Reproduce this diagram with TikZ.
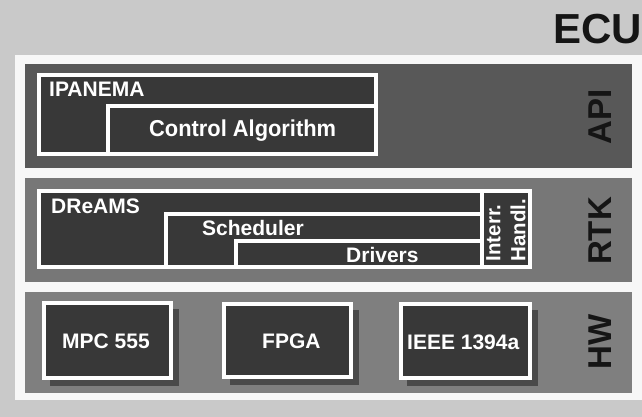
\documentclass[tikz,border=0pt]{standalone}
\usepackage{fontspec}
\setmainfont{Liberation Sans}
\newfontfamily\narrowfont[FakeStretch=0.95]{Liberation Sans}
\definecolor{bgc}{HTML}{C9C9C9}
\definecolor{panelc}{HTML}{F7F7F7}
\definecolor{apic}{HTML}{585858}
\definecolor{rtkc}{HTML}{777777}
\definecolor{hwc}{HTML}{7F7F7F}
\definecolor{innerc}{HTML}{383838}
\definecolor{shadowc}{HTML}{4A4A4A}
\definecolor{lblc}{HTML}{151515}
\begin{document}
\begin{tikzpicture}[x=1pt,y=-1pt,
  bandbox/.style={fill=#1,draw=none},
  innerbox/.style={fill=innerc,draw=white,line width=3.5pt},
  wline/.style={draw=white,line width=3.5pt},
  shadowbox/.style={fill=shadowc,draw=none},
  lbl/.style={text=white,font=\bfseries\fontsize{21}{24}\selectfont,inner sep=0pt,anchor=base west},
  side/.style={text=lblc,font=\bfseries\fontsize{33}{36}\selectfont,inner sep=0pt,rotate=90}]
% background and panel
\fill[bgc] (0,0) rectangle (642,417);
\useasboundingbox (0,0) rectangle (642,417);
\fill[panelc] (15,55) rectangle (642,400);
\node[text=lblc,font=\bfseries\fontsize{42}{46}\selectfont,inner sep=0pt,anchor=base east] (ecu) at (642,44) {ECU};
% bands
\path[bandbox=apic] (25,64) rectangle (632,168);
\path[bandbox=rtkc] (25,178) rectangle (632,282);
\path[bandbox=hwc] (25,292) rectangle (632,393);
% API layer
\draw[innerbox] (39,75) rectangle (376,154);
\draw[innerbox] (108,106) rectangle (376,154);
\node[lbl] (ipanema) at (49,97) {IPANEMA};
\node[lbl,font=\narrowfont\bfseries\fontsize{23}{26}\selectfont] (ctrl) at (149,136) {Control Algorithm};
\node[side] (api) at (600,117) {API};
% RTK layer
\draw[innerbox] (39,191) rectangle (530,267);
\draw[innerbox] (166,214) rectangle (482,267);
\draw[innerbox] (236,241) rectangle (482,267);
\draw[wline] (482,191) -- (482,267);
\node[lbl] (dreams) at (51,213) {DReAMS};
\node[lbl] (sched) at (202,235) {Scheduler};
\node[lbl] (drivers) at (346,262) {Drivers};
\node[text=white,font=\bfseries\fontsize{20.5}{25}\selectfont,inner sep=0pt,rotate=90,align=left] (interr) at (506,230) {Interr.\\Handl.};
\node[side] (rtk) at (600,231) {RTK};
% HW layer
\path[shadowbox] (50,309) rectangle (179,386);
\path[shadowbox] (230,310) rectangle (359,385);
\path[shadowbox] (407,310) rectangle (538,386);
\draw[innerbox] (44,303) rectangle (171,378);
\draw[innerbox] (224,304) rectangle (351,377);
\draw[innerbox] (401,304) rectangle (530,378);
\node[lbl] (mpc) at (62,348) {MPC 555};
\node[lbl] (fpga) at (262,348) {FPGA};
\node[lbl] (ieee) at (407,349) {IEEE 1394a};
\node[side] (hw) at (600,342) {HW};
\end{tikzpicture}
\end{document}
